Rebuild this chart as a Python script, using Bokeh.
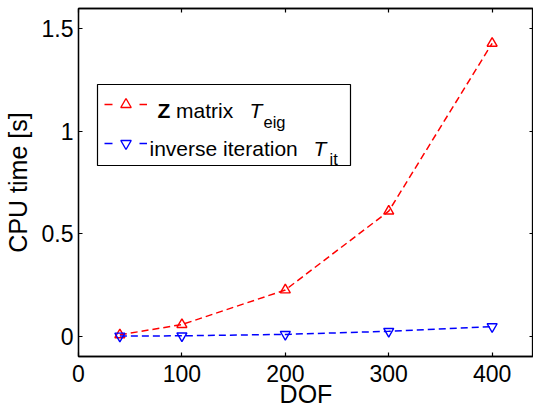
from bokeh.plotting import figure
from bokeh.models import (Range1d, LinearAxis, FixedTicker, Label, BoxAnnotation,
                          Legend, LegendItem, CustomJSTickFormatter,
                          ColumnDataSource)
from bokeh.embed import file_html
from bokeh.resources import INLINE

# CPU time against number of degrees of freedom
dof = [40, 100, 200, 300, 400]
t_eig = [0.006, 0.056, 0.225, 0.61, 1.43]      # Z matrix, T_eig
t_it = [0.0, 0.001, 0.008, 0.023, 0.046]       # inverse iteration, T_it

x_ticks = [0, 100, 200, 300, 400]
y_ticks = [0, 0.5, 1, 1.5]
x_title = "DOF"
y_title = "CPU time [s]"

FONT = "Liberation Sans"
RED = "#ff0000"
BLUE = "#0000ff"
DASH = "7 4"

p = figure(width=533, height=410, output_backend="svg", toolbar_location=None,
           x_range=Range1d(0, 440), y_range=Range1d(-0.1, 1.6),
           min_border_left=76, min_border_right=0, min_border_top=8,
           min_border_bottom=53)
p.xgrid.visible = False
p.ygrid.visible = False
p.outline_line_color = "black"
p.outline_line_width = 1.3
p.background_fill_color = "white"
p.border_fill_color = "white"

plain = CustomJSTickFormatter(code="return tick.toString()")
blank = CustomJSTickFormatter(code="return ''")


def style_axis(ax, ticks, show_labels):
    ax.ticker = FixedTicker(ticks=ticks)
    ax.axis_line_color = "black"
    ax.axis_line_width = 1.3
    ax.major_tick_in = 4
    ax.major_tick_out = 0
    ax.major_tick_line_width = 1.2
    ax.minor_tick_line_color = None
    if show_labels:
        ax.formatter = plain
        ax.major_label_text_font = FONT
        ax.major_label_text_font_size = "23px"
        ax.major_label_text_color = "black"
        ax.axis_label_text_font = FONT
        ax.axis_label_text_font_size = "25px"
        ax.axis_label_text_font_style = "normal"
        ax.axis_label_text_color = "black"
    else:
        ax.formatter = blank
        ax.major_label_text_font_size = "0px"
        ax.major_label_standoff = 0


xax = p.xaxis[0]
style_axis(xax, x_ticks, True)
xax.major_label_standoff = 8
xax.axis_label = x_title
xax.axis_label_standoff = -5

yax = p.yaxis[0]
style_axis(yax, y_ticks, True)
yax.major_label_standoff = 5
yax.axis_label = y_title
yax.axis_label_standoff = 7

top_axis = LinearAxis()
style_axis(top_axis, x_ticks, False)
p.add_layout(top_axis, "above")
right_axis = LinearAxis()
style_axis(right_axis, y_ticks, False)
right_axis.axis_line_color = None
p.add_layout(right_axis, "right")

# data series
p.line(dof, t_eig, line_color=RED, line_dash=DASH, line_width=1.5)
p.scatter(dof, t_eig, marker="triangle", size=10, line_color=RED,
          fill_color=None, line_width=1.4)
p.line(dof, t_it, line_color=BLUE, line_dash=DASH, line_width=1.5)
p.scatter(dof, t_it, marker="inverted_triangle", size=10, line_color=BLUE,
          fill_color=None, line_width=1.4)

# legend frame, drawn underneath the legend samples and texts
p.add_layout(BoxAnnotation(left=19, right=272, top=272, bottom=191,
                           left_units="screen", right_units="screen",
                           top_units="screen", bottom_units="screen",
                           fill_color="white", fill_alpha=1.0,
                           line_color="black", line_width=1.2, line_alpha=1.0))

# legend sample renderers: a single undefined point, so only the key is drawn
nan = float("nan")
key_src = ColumnDataSource(data=dict(x=[nan], y=[nan]))
eig_stub = p.line("x", "y", source=key_src, line_color=RED,
                  line_dash="8 27", line_width=1.5)
eig_mark = p.scatter("x", "y", source=key_src, marker="triangle",
                     line_color=RED, fill_color=None, line_width=1.4)
it_stub = p.line("x", "y", source=key_src, line_color=BLUE,
                 line_dash="8 27", line_width=1.5)
it_mark = p.scatter("x", "y", source=key_src, marker="inverted_triangle",
                    line_color=BLUE, fill_color=None, line_width=1.4)
legend = Legend(items=[LegendItem(label=" ", renderers=[eig_stub, eig_mark]),
                       LegendItem(label=" ", renderers=[it_stub, it_mark])],
                location=(26, 200), padding=0, spacing=13, margin=0,
                glyph_width=43, glyph_height=26, label_height=26,
                label_width=0, label_standoff=0, label_text_font_size="1px",
                border_line_color=None, background_fill_alpha=0)
p.add_layout(legend)

# legend texts with bold, italic and subscript parts
legend_parts = [
    ("Z", 79, 246.3, "21px", "bold"),
    ("matrix", 97.5, 246.3, "21px", "normal"),
    ("T", 171, 246.3, "21px", "italic"),
    ("eig", 185, 235, "16.5px", "normal"),
    ("inverse iteration", 71, 208.5, "21px", "normal"),
    ("T", 235, 208.5, "21px", "italic"),
    ("it", 251, 198, "16.5px", "normal"),
]
for txt, lx, ly, fs, style in legend_parts:
    p.add_layout(Label(x=lx, y=ly, x_units="screen", y_units="screen",
                       text=txt, text_font=FONT, text_font_size=fs,
                       text_font_style=style, text_align="left",
                       text_baseline="alphabetic", text_color="black"))

open("out.html", "w").write(file_html(p, INLINE))
